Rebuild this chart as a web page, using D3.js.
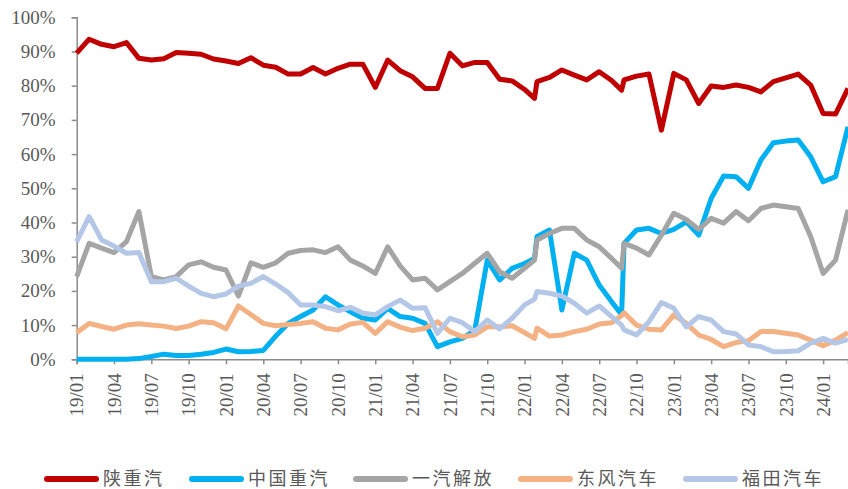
<!DOCTYPE html>
<html><head><meta charset="utf-8">
<script src="https://cdn.jsdelivr.net/npm/d3@7"></script>
<style>
html,body{margin:0;padding:0;background:#fff;}
svg{display:block;}
</style></head>
<body>
<svg id="chart" width="848" height="489"></svg>
<script>
// month offsets from 2019-01 (two extra intra-month observations near 22/01 and 22/12)
const monthIdx = [0,1,2,3,4,5,6,7,8,9,10,11,12,13,14,15,16,17,18,19,20,21,22,23,24,25,26,27,28,29,30,31,32,33,34,35,36,36.8,37,38,39,40,41,42,43,43.8,44,45,46,47,48,49,50,51,52,53,54,55,56,57,58,59,60,61,62];

const tickMonths = [0,3,6,9,12,15,18,21,24,27,30,33,36,39,42,45,48,51,54,57,60];
const tickLabels = ["19/01","19/04","19/07","19/10","20/01","20/04","20/07","20/10","21/01","21/04","21/07","21/10","22/01","22/04","22/07","22/10","23/01","23/04","23/07","23/10","24/01"];
const yTicks = [0,10,20,30,40,50,60,70,80,90,100];

const seriesNames = ["陕重汽","中国重汽","一汽解放","东风汽车","福田汽车"];

const shaanxi = [89.5,93.6,92.1,91.4,92.6,88.0,87.5,87.9,89.7,89.5,89.2,87.8,87.2,86.5,88.2,86.0,85.4,83.4,83.4,85.3,83.4,85.1,86.3,86.3,79.5,87.5,84.4,82.6,79.2,79.2,89.5,85.8,86.8,86.8,81.9,81.4,78.9,
  76.3,
  81.2,82.4,84.6,83.1,81.7,84.1,81.5,
  78.7,
  81.7,82.8,83.4,67.0,83.6,81.7,74.8,79.9,79.5,80.2,79.5,78.2,81.2,82.3,83.4,80.2,71.9,71.7,79.2];

const sinotruk = [0,0,0,0,0,0.2,0.8,1.5,1.1,1.1,1.5,2.0,3.0,2.2,2.3,2.6,6.8,10.5,12.5,14.4,18.3,15.9,13.9,12.0,11.5,14.9,12.5,12.0,10.5,3.7,5.1,6.1,8.5,29.0,23.2,26.6,28.0,
  29.5,
  35.9,37.8,14.4,31.0,29.0,21.7,16.8,
  13.0,
  33.9,37.8,38.3,36.8,38.0,40.2,36.3,47.0,53.6,53.4,50.0,58.3,63.3,63.8,64.1,59.2,51.9,53.4,68.0];

const faw = [24.2,33.9,32.5,31.2,34.4,43.2,24.2,23.2,24.2,27.6,28.5,26.9,26.1,18.5,28.2,26.9,28.2,31.0,31.8,32.0,31.2,32.9,29.0,27.3,25.1,32.9,27.3,23.2,23.7,20.3,22.7,25.1,28.1,31.0,25.6,23.7,26.6,
  29.0,
  34.9,36.8,38.3,38.3,34.9,32.9,29.5,
  26.6,
  33.9,32.5,30.5,36.3,42.7,40.9,38.0,41.2,39.8,43.2,40.5,44.1,45.1,44.6,44.1,35.9,25.1,29.0,43.7];

const dongfeng = [7.8,10.5,9.6,8.8,10.0,10.4,10.0,9.7,9.0,9.7,11.0,10.7,8.9,15.6,13.1,10.5,9.8,10.2,10.5,11.0,9.1,8.6,10.3,10.8,7.6,11.0,9.4,8.4,9.1,11.0,8.1,6.6,7.1,9.5,9.5,9.8,7.8,
  6.1,
  9.1,6.8,7.1,8.1,8.8,10.3,10.7,
  12.8,
  13.6,10.0,8.8,8.6,13.0,10.5,7.1,5.8,3.7,4.9,5.4,8.1,8.1,7.6,7.1,5.6,4.0,5.6,7.8];

const foton = [34.4,41.7,34.9,33.1,31.0,31.2,22.7,22.7,23.7,21.4,19.3,18.3,19.1,21.4,22.2,24.2,22.0,19.5,15.9,15.9,15.4,14.2,15.2,13.5,13.0,15.4,17.3,14.9,15.1,7.6,12.0,10.7,8.1,11.5,8.9,12.0,15.9,
  17.6,
  19.8,19.3,18.5,16.4,13.5,15.6,12.5,
  10.0,
  8.6,7.1,11.0,16.6,14.9,9.5,12.5,11.5,8.1,7.4,4.2,3.7,2.2,2.3,2.5,4.7,6.1,4.7,5.8];

const seriesValues = [shaanxi, sinotruk, faw, dongfeng, foton];
const colors = ["#C00000","#00B0F0","#A5A5A5","#F4B183","#B4C7E7"];

// ---- layout
const svg = d3.select("#chart");
const plotLeft = 76.7, plotRight = 848, plotTop = 17.3, plotBottom = 359.3;
const x = d3.scaleLinear().domain([0, 62]).range([plotLeft, plotRight]);
const y = d3.scaleLinear().domain([0, 100]).range([plotBottom, plotTop]);
const axisColor = "#8C8C8C";
const textColor = "#595959";
const numFont = "'Times New Roman','Liberation Serif',serif";

// y axis
const yAxis = d3.axisLeft(y).tickValues(yTicks).tickSize(5).tickPadding(16)
  .tickFormat(d => d + "%");
const gy = svg.append("g").attr("transform", `translate(${plotLeft},0)`).call(yAxis);
gy.select(".domain").attr("stroke", axisColor).attr("stroke-width", 1.5);
gy.selectAll(".tick line").attr("stroke", axisColor).attr("stroke-width", 1.5);
gy.selectAll(".tick text").attr("fill", textColor).style("font-family", numFont).style("font-size", "19px");

// x axis
const xAxis = d3.axisBottom(x).tickValues(tickMonths).tickSize(5).tickFormat((d,i) => tickLabels[i]);
const gx = svg.append("g").attr("transform", `translate(0,${plotBottom})`).call(xAxis);
gx.select(".domain").attr("stroke", axisColor).attr("stroke-width", 1.5);
gx.selectAll(".tick line").attr("stroke", axisColor).attr("stroke-width", 1.5);
gx.selectAll(".tick text")
  .attr("fill", textColor)
  .style("font-family", numFont).style("font-size", "19px")
  .attr("text-anchor", "end")
  .attr("transform", "rotate(-90)")
  .attr("x", -14).attr("y", 0).attr("dy", "0.33em");

// lines
const line = d3.line().x(d => x(d[0])).y(d => y(d[1]));
seriesValues.forEach((vals, s) => {
  const pts = monthIdx.map((m, i) => [m, vals[i]]);
  svg.append("path").datum(pts)
    .attr("fill", "none")
    .attr("stroke", colors[s])
    .attr("stroke-width", 5)
    .attr("stroke-linejoin", "round")
    .attr("stroke-linecap", "butt")
    .attr("d", line);
});

// legend
const legendX = [44, 189, 353, 518, 683];
const legendY = 479;
const lg = svg.append("g");
seriesNames.forEach((name, i) => {
  lg.append("line")
    .attr("x1", legendX[i] + 3).attr("x2", legendX[i] + 52)
    .attr("y1", legendY).attr("y2", legendY)
    .attr("stroke", colors[i]).attr("stroke-width", 6).attr("stroke-linecap", "round");
  lg.append("text")
    .attr("x", legendX[i] + 59).attr("y", legendY).attr("dy", "0.36em")
    .attr("fill", textColor)
    .style("font-family", "'Noto Sans CJK SC','Noto Sans CJK JP',sans-serif")
    .style("font-size", "18px").style("letter-spacing", "2.5px")
    .text(name);
});
</script>
</body></html>
